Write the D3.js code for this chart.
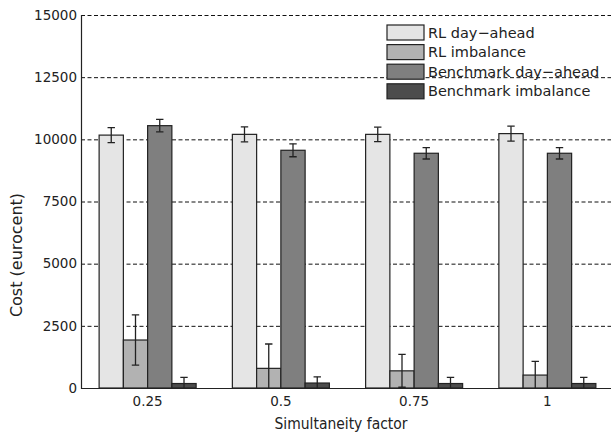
<!DOCTYPE html>
<html>
<head>
<meta charset="utf-8">
<script src="https://cdnjs.cloudflare.com/ajax/libs/d3/7.8.5/d3.min.js"></script>
<style>
    html, body { margin: 0; padding: 0; background: #fff; }
    svg { display: block; font-family: "DejaVu Sans", sans-serif; }
</style>
</head>
<body>
<div id="vis"></div>
<script>
    // data
    var factors = ["0.25", "0.5", "0.75", "1"];
    var series = ["RL day\u2212ahead", "RL imbalance", "Benchmark day\u2212ahead", "Benchmark imbalance"];
    var colors = ["#e5e5e5", "#b2b2b2", "#7f7f7f", "#4c4c4c"];
    var rlDayAhead    = [10170, 10200, 10200, 10230];
    var rlImbalance   = [1930, 790, 690, 520];
    var benchDayAhead = [10550, 9560, 9440, 9440];
    var benchImbalance= [180, 200, 180, 180];
    var rlDayAheadErr    = [300, 300, 290, 300];
    var rlImbalanceErr   = [1010, 980, 660, 550];
    var benchDayAheadErr = [250, 260, 230, 230];
    var benchImbalanceErr= [250, 250, 250, 250];
    var yTicks = [0, 2500, 5000, 7500, 10000, 12500, 15000];

    var values = [rlDayAhead, rlImbalance, benchDayAhead, benchImbalance];
    var errors = [rlDayAheadErr, rlImbalanceErr, benchDayAheadErr, benchImbalanceErr];

    var W = 611, H = 437;
    var mLeft = 81, mRight = 614, mTop = 15, mBottom = 388;

    var svg = d3.select("#vis").append("svg").attr("width", W).attr("height", H);

    // clip to plot area so error bars below zero get cut like in the original
    svg.append("defs").append("clipPath").attr("id", "plotclip")
        .append("rect").attr("x", mLeft).attr("y", mTop - 2)
        .attr("width", W - mLeft).attr("height", mBottom - mTop + 2.5);

    var x0 = d3.scaleBand().domain(factors).range([mLeft, mRight])
        .paddingInner(0.272).paddingOuter(0.136);
    var x1 = d3.scaleBand().domain(d3.range(series.length)).range([0, x0.bandwidth()]);
    var y = d3.scaleLinear().domain([0, 15000]).range([mBottom, mTop]);

    // dashed grid
    svg.append("g")
        .selectAll("line").data(yTicks).enter().append("line")
        .attr("x1", mLeft).attr("x2", W)
        .attr("y1", d => y(d) + 0.5).attr("y2", d => y(d) + 0.5)
        .attr("stroke", "#111").attr("stroke-width", 1)
        .attr("stroke-dasharray", "4,2.5");

    // bars
    var groups = svg.append("g").attr("clip-path", "url(#plotclip)")
        .selectAll("g").data(factors).enter().append("g")
        .attr("transform", d => "translate(" + x0(d) + ",0)");

    groups.each(function(f, i) {
        var g = d3.select(this);
        series.forEach(function(s, j) {
            var v = values[j][i], e = errors[j][i];
            g.append("rect")
                .attr("x", x1(j)).attr("y", y(v))
                .attr("width", x1.bandwidth()).attr("height", mBottom - y(v))
                .attr("fill", colors[j]).attr("stroke", "#222").attr("stroke-width", 1.2);
            var cx = x1(j) + x1.bandwidth() / 2;
            var eb = g.append("g").attr("stroke", "#222").attr("stroke-width", 1.3);
            eb.append("line").attr("x1", cx).attr("x2", cx).attr("y1", y(v + e)).attr("y2", y(v - e));
            eb.append("line").attr("x1", cx - 3.7).attr("x2", cx + 3.7).attr("y1", y(v + e)).attr("y2", y(v + e));
            eb.append("line").attr("x1", cx - 3.7).attr("x2", cx + 3.7).attr("y1", y(v - e)).attr("y2", y(v - e));
        });
    });

    // axes
    var yAxis = d3.axisLeft(y).tickValues(yTicks).tickSize(0).tickPadding(4).tickFormat(d3.format("d"));
    var gy = svg.append("g").attr("transform", "translate(" + mLeft + ",0)").call(yAxis);
    gy.select(".domain").remove();
    gy.selectAll("text").attr("font-size", "13.5px").attr("fill", "#222")
        .attr("font-family", "DejaVu Sans");

    var xAxis = d3.axisBottom(x0).tickSize(0).tickPadding(8);
    var gx = svg.append("g").attr("transform", "translate(0," + mBottom + ")").call(xAxis);
    gx.select(".domain").remove();
    gx.selectAll("text").attr("font-size", "13.5px").attr("fill", "#222")
        .attr("font-family", "DejaVu Sans");

    svg.append("line").attr("x1", mLeft + 0.5).attr("x2", mLeft + 0.5).attr("y1", mTop).attr("y2", mBottom + 1)
        .attr("stroke", "#222").attr("stroke-width", 1.2);
    svg.append("line").attr("x1", mLeft).attr("x2", W).attr("y1", mBottom + 0.5).attr("y2", mBottom + 0.5)
        .attr("stroke", "#222").attr("stroke-width", 1.2);

    // axis titles
    svg.append("text").attr("transform", "translate(22,255) rotate(-90)")
        .attr("text-anchor", "middle").attr("font-size", "16px").attr("fill", "#222")
        .text("Cost (eurocent)");
    svg.append("text").attr("x", 341).attr("y", 429)
        .attr("text-anchor", "middle").attr("font-size", "16px").attr("fill", "#222")
        .attr("textLength", 133).attr("lengthAdjust", "spacingAndGlyphs")
        .text("Simultaneity factor");

    // legend
    var leg = svg.append("g").attr("transform", "translate(387,25)");
    series.forEach(function(s, j) {
        var row = leg.append("g").attr("transform", "translate(0," + (j * 19.6) + ")");
        row.append("rect").attr("width", 37).attr("height", 15)
            .attr("fill", colors[j]).attr("stroke", "#222").attr("stroke-width", 1.2);
        row.append("text").attr("x", 41).attr("y", 12.5)
            .attr("font-size", "14.5px").attr("fill", "#222").text(s);
    });
</script>
</body>
</html>
